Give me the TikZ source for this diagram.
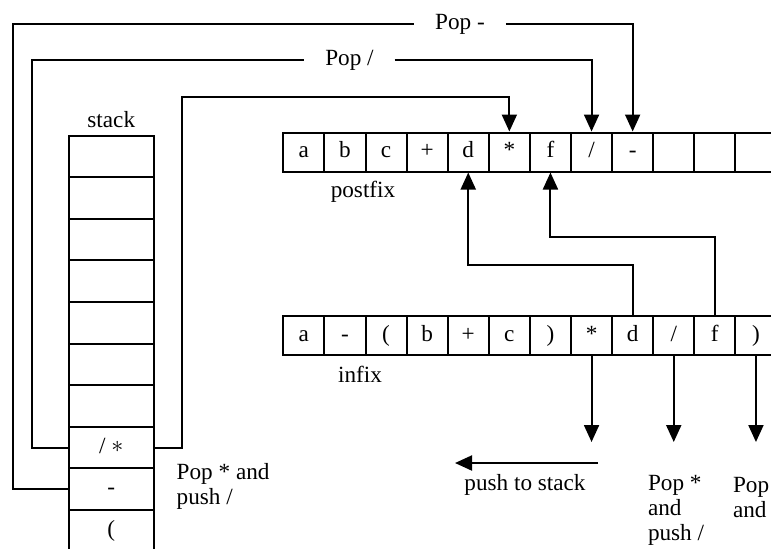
\documentclass[tikz,border=0pt]{standalone}
\usepackage{fontspec}
\setmainfont{Liberation Serif}
\usetikzlibrary{arrows.meta}
\begin{document}
\begin{tikzpicture}[x=0.5pt,y=-0.5pt,line width=1pt,
    font=\fontsize{11.6}{12.5}\selectfont,
    cell/.style={draw,minimum width=20.55pt,minimum height=19.5pt,inner sep=0pt,text height=8pt,text depth=2.5pt},
    scell/.style={draw,minimum width=42.35pt,minimum height=20.8pt,inner sep=0pt,text height=8pt,text depth=2.5pt},
    arr/.style={-{Triangle[length=8.5pt,width=7.5pt]}},
    lbl/.style={inner xsep=10pt,inner ysep=0pt},
    txt/.style={inner sep=0pt,align=left,anchor=west}]
      \useasboundingbox (0,0) rectangle (771,548);
      % stack
      \draw
        (111.3,156.3) node[scell] (s1){}
        (111.3,197.9) node[scell] (s2){}
        (111.3,239.5) node[scell] (s3){}
        (111.3,281.1) node[scell] (s4){}
        (111.3,322.7) node[scell] (s5){}
        (111.3,364.3) node[scell] (s6){}
        (111.3,405.9) node[scell] (s7){}
        (111.3,447.5) node[scell] (s8){/ \raisebox{0.5pt}{\large$\ast$}}
        (111.3,489.1) node[scell] (s9){-}
        (111.3,530.7) node[scell] (s10){(};
      \node (stack) at (111.3,120) {stack};
      % postfix
      \draw
        (303.85,152) node[cell] (p1){a}
        (344.95,152) node[cell] (p2){b}
        (386.05,152) node[cell] (p3){c}
        (427.15,152) node[cell] (p4){+}
        (468.25,152) node[cell] (p5){d}
        (509.35,152) node[cell] (p6){*}
        (550.45,152) node[cell] (p7){f}
        (591.55,152) node[cell] (p8){/}
        (632.65,152) node[cell] (p9){-}
        (673.75,152) node[cell] (p10){}
        (714.85,152) node[cell] (p11){}
        (755.95,152) node[cell] (p12){};
      \node (postfix) at (363,192) {postfix};
      % infix
      \draw
        (303.85,335.5) node[cell] (i1){a}
        (344.95,335.5) node[cell] (i2){-}
        (386.05,335.5) node[cell] (i3){(}
        (427.15,335.5) node[cell] (i4){b}
        (468.25,335.5) node[cell] (i5){+}
        (509.35,335.5) node[cell] (i6){c}
        (550.45,335.5) node[cell] (i7){)}
        (591.55,335.5) node[cell] (i8){*}
        (632.65,335.5) node[cell] (i9){d}
        (673.75,335.5) node[cell] (i10){/}
        (714.85,335.5) node[cell] (i11){f}
        (755.95,335.5) node[cell] (i12){)};
      \node (infix) at (360,374) {infix};
      % pops from the stack
      \coordinate (c1) at (13,24);
      \coordinate (c2) at (32,60);
      \coordinate (c3) at (182,97);
      \node[lbl] (popminus) at (460,24) {Pop -};
      \node[lbl] (popslash) at (349.5,60) {Pop /};
      \draw (s9.west) -| (c1) -- (popminus);
      \draw[arr] (popminus) -| (p9.north);
      \draw (s8.west) -| (c2) -- (popslash);
      \draw[arr] (popslash) -| (p8.north);
      \draw[arr] (s8.east) -| (c3) -| (p6.north);
      % operands
      \draw[arr] (i9.north) -- ++(0,-50.5) -| (p5.south);
      \draw[arr] (i11.north) -- ++(0,-78.5) -| (p7.south);
      % operators
      \coordinate (d1) at (591.55,442);
      \coordinate (d2) at (673.75,442);
      \coordinate (d3) at (755.95,442);
      \draw[arr] (i8.south) -- (d1);
      \draw[arr] (i10.south) -- (d2);
      \draw[arr] (i12.south) -- (d3);
      \coordinate (pushA) at (598,463);
      \coordinate (pushB) at (455,463);
      \draw[arr] (pushA) -- (pushB);
      \node (push) at (525,485) {push to stack};
      \node[txt] (note1) at (175.7,486.5) {Pop * and\\push /};
      \node[txt] (note2) at (647,510) {Pop *\\and\\push /};
      \node[txt] (note3) at (732,497.5) {Pop\\and};
    \end{tikzpicture}
\end{document}
